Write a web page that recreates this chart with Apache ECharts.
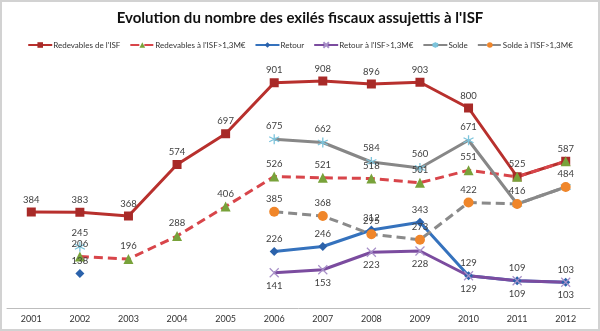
<!DOCTYPE html>
<html><head><meta charset="utf-8">
<script src="https://cdn.jsdelivr.net/npm/echarts@6/dist/echarts.min.js"></script>
<style>html,body{margin:0;padding:0;background:#fff}#c{width:600px;height:331px}</style>
</head><body><div id="c"></div>
<script>
const years = ['2001','2002','2003','2004','2005','2006','2007','2008','2009','2010','2011','2012'];
const redevables = [384, 383, 368, 574, 697, 901, 908, 896, 903, 800, 525, 587];
const redevables13 = [null, 206, 196, 288, 406, 526, 521, 518, 501, 551, 525, 587];
const retour = [null, 138, null, null, null, 226, 246, 312, 343, 129, 109, 103];
const retour13 = [null, null, null, null, null, 141, 153, 223, 228, 129, 109, 103];
const solde = [null, 245, null, null, null, 675, 662, 584, 560, 671, 416, 484];
const solde13 = [null, null, null, null, null, 385, 368, 295, 273, 422, 416, 484];

const FONT = 'Lato, "Open Sans", sans-serif';
const lbl = (pos) => ({show: true, position: pos, distance: 3, fontSize: 9.5, color: '#404040', fontFamily: FONT});
const star = 'path://M0,-5L0,5M-4.3,-2.5L4.3,2.5M-4.3,2.5L4.3,-2.5';
const xmark = 'path://M-4,-4L4,4M-4,4L4,-4';

// hide a label when another series already shows the same value at the same point
function dedupe(arr, other) {
  return arr.map((v, i) => (v != null && other[i] === v) ? {value: v, label: {show: false}} : v);
}

function mk(name, data, o) {
  return Object.assign({
    name, type: 'line', data, connectNulls: false, animation: false,
    label: lbl('top'), emphasis: {disabled: true}
  }, o);
}

const chart = echarts.init(document.getElementById('c'), null, {renderer: 'canvas'});
chart.setOption({
  backgroundColor: '#fff',
  title: {text: "Evolution du nombre des exilés fiscaux assujettis à l'ISF", left: 'center', top: 6,
    textStyle: {fontFamily: FONT, fontSize: 15, fontWeight: 'bold', color: '#111'}},
  legend: {top: 36, left: 'center', itemWidth: 24, itemHeight: 7, itemGap: 9,
    textStyle: {fontFamily: FONT, fontSize: 8, color: '#333', padding: [0,0,0,-4]}},
  grid: {left: 7, right: 10, top: 58, bottom: 23, containLabel: false},
  xAxis: {type: 'category', data: years, boundaryGap: true,
    axisLine: {lineStyle: {color: '#bdbdbd', width: 1}}, axisTick: {show: false},
    axisLabel: {fontFamily: FONT, fontSize: 9, color: '#333', margin: 7}},
  yAxis: {type: 'value', min: 0, max: 1000, show: false, splitLine: {show: false}},
  graphic: [{type: 'rect', shape: {x: 1, y: 1, width: 598, height: 329},
    style: {fill: 'none', stroke: '#d2d2d2', lineWidth: 2}, z: 100}],
  series: [
    mk("Redevables de l'ISF", redevables, {symbol: 'rect', symbolSize: 9,
      lineStyle: {color: '#b8302d', width: 3}, itemStyle: {color: '#a82a28'}}),
    mk("Redevables à l'ISF>1,3M€", dedupe(redevables13, redevables), {symbol: 'triangle', symbolSize: 10,
      lineStyle: {color: '#d8454a', width: 3, type: [9, 5]}, itemStyle: {color: '#78a23a'}}),
    mk('Retour', retour, {symbol: 'diamond', symbolSize: 9,
      lineStyle: {color: '#3572bd', width: 3}, itemStyle: {color: '#2b62ab'}}),
    mk("Retour à l'ISF>1,3M€", retour13, {symbol: xmark, symbolSize: 9, label: lbl('bottom'),
      lineStyle: {color: '#7b4c9f', width: 3}, itemStyle: {color: '#a890c8', borderColor: '#a890c8', borderWidth: 1.2}}),
    mk('Solde', dedupe(solde, solde13), {symbol: star, symbolSize: 10,
      lineStyle: {color: '#878787', width: 3}, itemStyle: {color: '#7cc4dc', borderColor: '#7cc4dc', borderWidth: 1.3}}),
    mk("Solde à l'ISF>1,3M€", solde13, {symbol: 'circle', symbolSize: 10,
      lineStyle: {color: '#8a8a8a', width: 3, type: [9, 5]}, itemStyle: {color: '#f0862a'}})
  ]
});
</script></body></html>
